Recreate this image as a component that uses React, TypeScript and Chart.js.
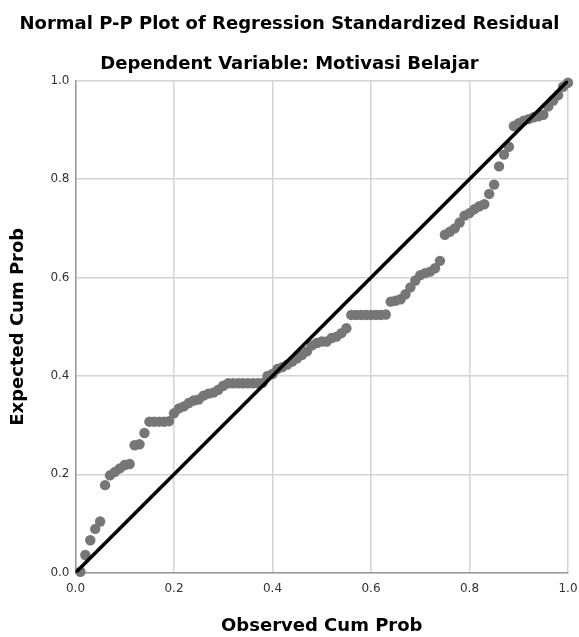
import React, { useEffect, useRef } from "react";
import { Chart, registerables } from "chart.js";

Chart.register(...registerables);

const TITLE = "Normal P-P Plot of Regression Standardized Residual";
const SUBTITLE = "Dependent Variable: Motivasi Belajar";
const X_TITLE = "Observed Cum Prob";
const Y_TITLE = "Expected Cum Prob";

const observedCumProb = [
  0.01, 0.02, 0.03, 0.04, 0.05, 0.06, 0.07, 0.08, 0.09, 0.1,
  0.11, 0.12, 0.13, 0.14, 0.15, 0.16, 0.17, 0.18, 0.19, 0.2,
  0.21, 0.22, 0.23, 0.24, 0.25, 0.26, 0.27, 0.28, 0.29, 0.3,
  0.31, 0.32, 0.33, 0.34, 0.35, 0.36, 0.37, 0.38, 0.39, 0.4,
  0.41, 0.42, 0.43, 0.44, 0.45, 0.46, 0.47, 0.48, 0.49, 0.5,
  0.51, 0.52, 0.53, 0.54, 0.55, 0.56, 0.57, 0.58, 0.59, 0.6,
  0.61, 0.62, 0.63, 0.64, 0.65, 0.66, 0.67, 0.68, 0.69, 0.7,
  0.71, 0.72, 0.73, 0.74, 0.75, 0.76, 0.77, 0.78, 0.79, 0.8,
  0.81, 0.82, 0.83, 0.84, 0.85, 0.86, 0.87, 0.88, 0.89, 0.9,
  0.91, 0.92, 0.93, 0.94, 0.95, 0.96, 0.97, 0.98, 0.99, 1.0,
];

const expectedCumProb = [
  0.002, 0.036, 0.066, 0.089, 0.104, 0.178, 0.198, 0.205, 0.212, 0.219,
  0.221, 0.259, 0.261, 0.284, 0.307, 0.307, 0.307, 0.307, 0.308, 0.324,
  0.334, 0.338, 0.345, 0.35, 0.352, 0.36, 0.364, 0.366, 0.372, 0.38,
  0.385, 0.385, 0.385, 0.385, 0.385, 0.385, 0.385, 0.386, 0.4, 0.404,
  0.414, 0.418, 0.423, 0.429, 0.436, 0.443, 0.45, 0.462, 0.467, 0.47,
  0.47, 0.477, 0.48, 0.487, 0.497, 0.524, 0.524, 0.524, 0.524, 0.524,
  0.524, 0.524, 0.525, 0.551, 0.553, 0.556, 0.566, 0.58, 0.594, 0.605,
  0.609, 0.612, 0.619, 0.634, 0.687, 0.693, 0.7, 0.712, 0.726, 0.731,
  0.739, 0.745, 0.749, 0.77, 0.789, 0.826, 0.85, 0.866, 0.908, 0.914,
  0.919, 0.922, 0.926, 0.928, 0.931, 0.948, 0.96, 0.971, 0.988, 0.996,
];

const diagonal = [0, 1];
const axisMin = 0;
const axisMax = 1;
const tickStep = 0.2;

const FONT = "'DejaVu Sans', 'Liberation Sans', Arial, sans-serif";

export default function App() {
  const ref = useRef<HTMLCanvasElement>(null);

  useEffect(() => {
    if (!ref.current) return;
    const boldFont = { family: FONT, size: 18, weight: "bold" as const };
    const tickFont = { family: FONT, size: 12 };
    const chart = new Chart(ref.current, {
      type: "scatter",
      data: {
        datasets: [
          {
            type: "line" as const,
            data: diagonal.map((v) => ({ x: v, y: v })),
            borderColor: "#000000",
            borderWidth: 3.6,
            pointRadius: 0,
            fill: false,
            order: 0,
          } as any,
          {
            data: observedCumProb.map((x, i) => ({ x, y: expectedCumProb[i] })),
            backgroundColor: "#767676",
            borderColor: "#767676",
            borderWidth: 0,
            pointRadius: 5.2,
            order: 1,
            clip: false,
          } as any,
        ],
      },
      options: {
        animation: false,
        responsive: false,
        devicePixelRatio: 1,
        layout: { padding: { left: 11, right: 11, top: 0, bottom: 0 } },
        plugins: {
          legend: { display: false },
          tooltip: { enabled: false },
          title: {
            display: true,
            text: TITLE,
            font: boldFont,
            color: "#000000",
            padding: { top: 14, bottom: 18.4 },
          },
          subtitle: {
            display: true,
            text: SUBTITLE,
            font: boldFont,
            color: "#000000",
            padding: { top: 0, bottom: 5.2 },
          },
        },
        scales: {
          x: {
            type: "linear",
            min: axisMin,
            max: axisMax,
            ticks: {
              stepSize: tickStep,
              callback: (v: any) => Number(v).toFixed(1),
              font: tickFont,
              color: "#333333",
              padding: 9,
            },
            grid: { color: "#d4d4d4", lineWidth: 1.5, drawTicks: false },
            border: { color: "#9a9a9a", width: 1.5 },
            title: {
              display: true,
              text: X_TITLE,
              font: boldFont,
              color: "#000000",
              padding: { top: 0, bottom: 0 },
            },
            afterFit: (s: any) => {
              s.height = 64.3;
              s.paddingLeft = 0;
              s.paddingRight = 0;
            },
          },
          y: {
            type: "linear",
            min: axisMin,
            max: axisMax,
            ticks: {
              stepSize: tickStep,
              callback: (v: any) => Number(v).toFixed(1),
              font: tickFont,
              color: "#333333",
              padding: 6,
            },
            grid: { color: "#d4d4d4", lineWidth: 1.5, drawTicks: false },
            border: { color: "#9a9a9a", width: 1.5 },
            title: {
              display: true,
              text: Y_TITLE,
              font: boldFont,
              color: "#000000",
              padding: { top: -3, bottom: 0 },
            },
            afterFit: (s: any) => {
              s.width = 64.5;
              s.paddingTop = 0;
              s.paddingBottom = 0;
            },
          },
        },
      },
    });
    return () => chart.destroy();
  }, []);

  return (
    <div
      style={{
        position: "fixed",
        left: 0,
        top: 0,
        width: 579,
        height: 637,
        background: "#ffffff",
      }}
    >
      <canvas ref={ref} width={579} height={637} style={{ display: "block" }} />
    </div>
  );
}
